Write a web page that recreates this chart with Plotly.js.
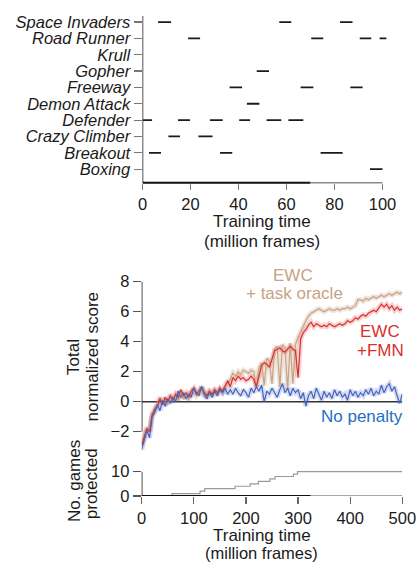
<!DOCTYPE html>
<html><head><meta charset="utf-8">
<script src="https://cdn.plot.ly/plotly-3.0.1.min.js"></script>
<style>html,body{margin:0;padding:0;background:#fff}#chart{width:418px;height:562px}</style>
</head><body><div id="chart"></div>
<script>
// ---------- top panel: training schedule ----------
const games = ["Boxing","Breakout","Crazy Climber","Defender","Demon Attack","Freeway","Gopher","Krull","Road Runner","Space Invaders"];
const scheduleTicks = [0,20,40,60,80,100];
const spaceInvadersSeg = [[6.5,11.9],[57,62],[82.3,87.5]];
const roadRunnerSeg = [[19,24],[70.3,75.3],[90.5,95.3],[98.8,101.6]];
const krullSeg = [];
const gopherSeg = [[47.6,52.7]];
const freewaySeg = [[36.3,41.5],[65.9,71.2],[86.6,91.7]];
const demonAttackSeg = [[43.5,48.7]];
const defenderSeg = [[0.2,4],[14.8,19.8],[28.1,33.4],[40.3,44.8],[51.7,57.8],[60.8,67]];
const crazyClimberSeg = [[10.8,15.6],[23.3,29.2]];
const breakoutSeg = [[2.7,7.7],[32.3,37.4],[74.2,83.4]];
const boxingSeg = [[94.8,100]];

// ---------- middle panel: total normalized score ----------
const scoreTime = [0,5,10,15,20,25,30,35,40,45,50,55,60,65,70,75,80,85,90,95,
  100,105,110,115,120,125,130,135,140,145,150,155,160,165,170,175,180,185,190,195,
  200,205,210,215,220,225,230,235,240,245,250,255,260,265,270,275,280,285,290,295,
  300,305,310,315,320,325,330,335,340,345,350,355,360,365,370,375,380,385,390,395,
  400,405,410,415,420,425,430,435,440,445,450,455,460,465,470,475,480,485,490,495,500];
const noPenalty = [-3.2,-2.6,-1.9,-2.4,-1.0,-0.7,-0.2,-0.6,0.1,-0.3,0.2,-0.1,0.3,0.0,0.7,0.3,0.6,0.2,0.5,0.3,
  0.9,0.6,0.4,1.0,0.5,0.2,0.6,0.3,0.7,0.4,0.8,0.6,0.9,0.5,0.8,0.5,0.9,0.6,0.4,0.8,
  0.6,0.3,0.9,0.6,1.0,0.7,1.1,0.0,0.7,0.5,0.9,0.6,0.3,0.8,1.2,0.6,0.9,0.4,0.9,0.6,
  0.8,0.2,0.6,-0.3,0.4,0.7,0.2,0.9,0.5,0.1,0.7,0.3,0.6,0.2,0.8,0.4,0.7,0.3,0.5,0.1,
  0.8,0.4,0.7,0.3,0.6,0.4,0.8,0.5,0.9,0.4,0.7,0.5,1.1,0.6,1.0,1.2,0.7,1.0,0.4,-0.1,0.5];
const ewcFmn = [-2.9,-2.3,-1.8,-2.0,-0.9,-0.5,-0.3,0.2,-0.2,0.3,0.0,0.4,0.1,0.5,0.3,0.8,0.4,0.6,0.3,0.7,
  0.9,0.5,0.7,1.0,0.6,0.4,0.7,0.5,0.8,0.6,0.9,0.7,1.1,1.4,1.0,1.6,1.4,1.7,1.5,1.6,
  1.4,1.5,1.7,1.5,1.0,1.8,2.4,2.6,2.5,2.3,2.9,3.4,3.5,3.6,3.4,3.3,3.5,3.7,3.5,3.4,
  1.6,4.2,4.6,4.8,5.1,5.3,5.0,5.2,5.1,5.0,5.1,5.0,5.2,5.1,5.0,5.1,5.2,5.1,5.2,5.4,
  5.3,5.4,5.6,5.5,5.7,5.8,5.7,5.9,6.0,6.1,6.0,6.3,6.5,6.3,6.5,6.2,6.4,6.1,6.3,6.1,6.2];
const ewcOracle = [-2.8,-2.2,-1.7,-1.9,-0.8,-0.6,-0.1,0.3,-0.1,0.2,-0.2,0.5,0.2,0.4,0.1,0.7,0.2,0.5,0.1,0.6,
  0.8,0.4,0.6,0.9,0.3,0.5,0.8,0.4,0.9,0.5,0.8,0.6,1.0,1.2,1.5,1.9,1.7,2.0,1.8,2.1,
  2.0,1.9,2.1,2.0,1.0,2.2,2.6,1.1,2.9,2.7,1.2,3.5,3.7,1.0,3.8,3.6,0.8,3.9,1.2,3.8,
  4.3,4.7,5.0,5.4,5.7,5.9,6.0,6.1,6.2,6.1,6.0,6.1,6.2,6.1,6.1,6.2,6.1,6.2,6.2,6.3,
  6.2,6.3,6.4,6.8,6.8,6.7,6.9,6.8,6.9,7.0,6.9,7.0,7.1,7.0,7.1,7.2,7.1,7.2,7.3,7.2,7.3];
const scoreTicks = [-2,0,2,4,6,8];

// ---------- bottom panel: games protected ----------
const protectTime = [0,58,58,112,112,121,121,179,179,208,208,224,224,246,246,256,256,291,291,299,299,500];
const gamesProtected = [0,0,1,1,2,2,3,3,4,4,5,5,6,6,7,7,8,8,9,9,10,10];
const timeTicks = [0,100,200,300,400,500];
const protectTicks = [0,10];

// ---------- build ----------
const segLists = {"Space Invaders":spaceInvadersSeg,"Road Runner":roadRunnerSeg,"Krull":krullSeg,
  "Gopher":gopherSeg,"Freeway":freewaySeg,"Demon Attack":demonAttackSeg,"Defender":defenderSeg,
  "Crazy Climber":crazyClimberSeg,"Breakout":breakoutSeg,"Boxing":boxingSeg};
const segX = [], segY = [];
games.forEach(g => { segLists[g].forEach(s => { segX.push(s[0], s[1], null); segY.push(g, g, null); }); });

const W = 418, H = 562;
const px = x => x / W, py = y => (H - y) / H;
const FONT = "Liberation Sans, Arial, Helvetica, sans-serif";
const TAN = "#c7a283", RED = "#d9302c", BLUE = "#4463bf";

const traces = [
  {x: segX, y: segY, xaxis: "x", yaxis: "y", mode: "lines", line: {color: "#1a1a1a", width: 1.8}, hoverinfo: "skip"},
  {x: scoreTime, y: ewcOracle, xaxis: "x2", yaxis: "y2", mode: "lines", line: {color: "rgba(199,162,131,0.3)", width: 5}},
  {x: scoreTime, y: ewcFmn, xaxis: "x2", yaxis: "y2", mode: "lines", line: {color: "rgba(217,48,44,0.22)", width: 5}},
  {x: scoreTime, y: noPenalty, xaxis: "x2", yaxis: "y2", mode: "lines", line: {color: "rgba(68,99,191,0.22)", width: 5}},
  {x: scoreTime, y: ewcOracle, xaxis: "x2", yaxis: "y2", mode: "lines", line: {color: TAN, width: 1.2}},
  {x: scoreTime, y: ewcFmn, xaxis: "x2", yaxis: "y2", mode: "lines", line: {color: RED, width: 1.2}},
  {x: scoreTime, y: noPenalty, xaxis: "x2", yaxis: "y2", mode: "lines", line: {color: BLUE, width: 1.2}},
  {x: protectTime, y: gamesProtected, xaxis: "x3", yaxis: "y3", mode: "lines", line: {color: "#9a9a9a", width: 1.2}}
];

const tickFont = {family: FONT, size: 16.5, color: "#1a1a1a"};
const baseAx = {showgrid: false, zeroline: false, showline: false, fixedrange: true};

const layout = {
  width: W, height: H, margin: {l: 0, r: 0, t: 0, b: 0},
  paper_bgcolor: "#fff", plot_bgcolor: "rgba(0,0,0,0)", showlegend: false,
  font: {family: FONT, size: 17, color: "#1a1a1a"},
  xaxis: Object.assign({}, baseAx, {domain: [px(142.5), px(387.3)], range: [0, 102], anchor: "y",
    tickvals: scheduleTicks, ticks: "outside", ticklen: 6, tickcolor: "#777", tickwidth: 1.2,
    tickfont: tickFont, ticklabelstandoff: 0}),
  yaxis: Object.assign({}, baseAx, {domain: [py(182.7), py(16)], type: "category",
    categoryorder: "array", categoryarray: games, range: [-0.83, 9.37], anchor: "x",
    tickmode: "array", tickvals: games, ticktext: games,
    ticks: "outside", ticklen: 8, tickcolor: "#777", tickwidth: 1.2,
    tickfont: {family: FONT, size: 16.5, color: "#1a1a1a", style: "italic"}}),
  xaxis2: Object.assign({}, baseAx, {domain: [px(141.7), px(402.3)], range: [0, 500], anchor: "y2",
    showticklabels: false, ticks: ""}),
  yaxis2: Object.assign({}, baseAx, {domain: [py(455.7), py(278.7)], range: [-3.6, 8.2], anchor: "x2",
    tickvals: scoreTicks, ticks: "outside", ticklen: 8, tickcolor: "#555", tickwidth: 1.2,
    tickfont: tickFont}),
  xaxis3: Object.assign({}, baseAx, {domain: [px(141.7), px(402.3)], range: [0, 500], anchor: "y3",
    tickvals: timeTicks, ticks: "outside", ticklen: 7, tickcolor: "#666", tickwidth: 1.2,
    tickfont: tickFont, ticklabelstandoff: 0}),
  yaxis3: Object.assign({}, baseAx, {domain: [py(496), py(468)], range: [0, 11.5], anchor: "x3",
    tickvals: protectTicks, ticks: "outside", ticklen: 8, tickcolor: "#555", tickwidth: 1.2,
    tickfont: tickFont}),
  shapes: [
    // top panel axes
    {type: "line", xref: "x", yref: "y domain", x0: 0, x1: 0, y0: 0, y1: 1, line: {color: "#1a1a1a", width: 1.5}},
    {type: "line", xref: "x", yref: "y domain", x0: 0, x1: 70, y0: 0, y1: 0, line: {color: "#111", width: 2}},
    {type: "line", xref: "x", yref: "y domain", x0: 70, x1: 100, y0: 0, y1: 0, line: {color: "#8a8a8a", width: 1.5}},
    // middle panel
    {type: "line", xref: "x2", yref: "y2", x0: 0, x1: 0, y0: -2, y1: 8, line: {color: "#1a1a1a", width: 1.5}},
    {type: "line", xref: "x2", yref: "y2", x0: 0, x1: 500, y0: 0, y1: 0, line: {color: "#333", width: 1.5}, layer: "below"},
    // bottom panel
    {type: "line", xref: "x3", yref: "y3", x0: 0, x1: 0, y0: 0, y1: 10, line: {color: "#1a1a1a", width: 1.5}},
    {type: "line", xref: "x3", yref: "y3", x0: 324, x1: 500, y0: 0, y1: 0, line: {color: "#8a8a8a", width: 1.5}},
    {type: "line", xref: "x3", yref: "y3", x0: 0, x1: 324, y0: 0, y1: 0, line: {color: "#111", width: 2.2}}
  ],
  annotations: [
    {text: "Training time", x: px(262), y: py(222)},
    {text: "(million frames)", x: px(261.7), y: py(241.5)},
    {text: "Training time", x: px(261.7), y: py(535.5)},
    {text: "(million frames)", x: px(261), y: py(552.5), font: {size: 16.5}},
    {text: "Total", x: px(74.2), y: py(356.7), textangle: -90},
    {text: "normalized score", x: px(92.7), y: py(356.7), textangle: -90},
    {text: "No. games", x: px(74), y: py(481), textangle: -90},
    {text: "protected", x: px(91.7), y: py(483.5), textangle: -90},
    {text: "EWC", x: px(293), y: py(275), font: {color: TAN}},
    {text: "+ task oracle", x: px(294), y: py(293.3), font: {color: TAN}},
    {text: "EWC", x: px(380), y: py(331.7), font: {color: RED}},
    {text: "+FMN", x: px(380.5), y: py(350), font: {color: RED}},
    {text: "No penalty", x: px(361.7), y: py(416), font: {color: "#1f6fc2"}}
  ].map(a => Object.assign({xref: "paper", yref: "paper", showarrow: false, xanchor: "center", yanchor: "middle"}, a,
    {font: Object.assign({family: FONT, size: 17, color: "#1a1a1a"}, a.font || {})}))
};

Plotly.newPlot("chart", traces, layout, {staticPlot: true, displayModeBar: false});
</script>
</body></html>
